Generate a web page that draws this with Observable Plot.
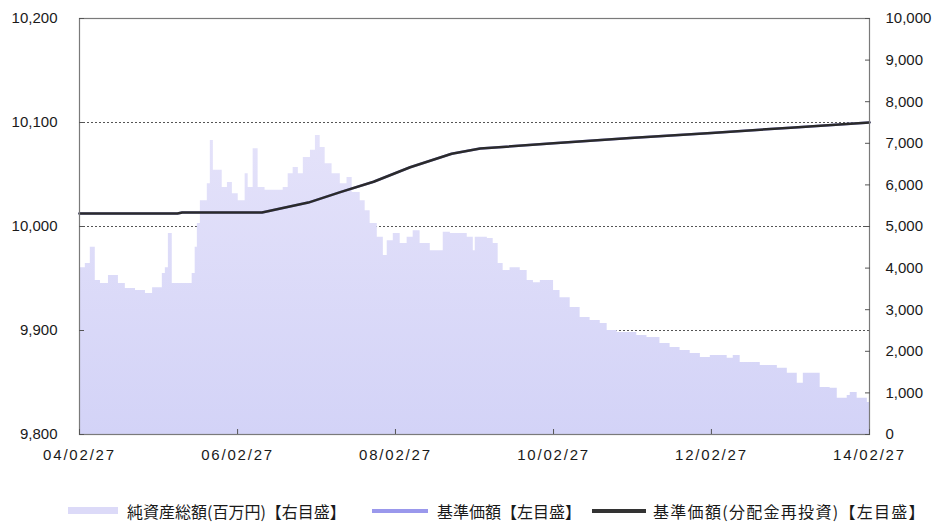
<!DOCTYPE html>
<html>
<head>
<meta charset="utf-8">
<script src="https://cdn.jsdelivr.net/npm/d3@7"></script>
<script src="https://cdn.jsdelivr.net/npm/@observablehq/plot@0.6"></script>
<style>
  html, body { margin: 0; padding: 0; background: #fff; }
  #chart { position: relative; width: 935px; height: 523px; }
  #legend { position: absolute; left: 0; top: 498px; width: 935px; height: 26px;
            font-family: "Noto Sans CJK JP", sans-serif; font-size: 16px; color: #1a1a1a; }
  .sw { position: absolute; top: 11px; height: 4px; }
  .lt { position: absolute; top: 0; white-space: nowrap; line-height: 26px; }
  .xl text { letter-spacing: 1.8px; }
</style>
</head>
<body>
<div id="chart"></div>
<script>
// ---- Data ----
// 純資産総額(百万円) – right axis
const assetDates = ["2004-02-27","2004-03-01","2004-03-25","2004-04-17","2004-05-10","2004-06-03","2004-07-10","2004-08-25","2004-09-26","2004-11-12","2004-12-28","2005-01-30","2005-03-16","2005-03-30","2005-04-13","2005-05-01","2005-06-16","2005-08-01","2005-08-15","2005-08-25","2005-09-08","2005-10-10","2005-10-24","2005-11-07","2005-12-18","2006-01-11","2006-02-03","2006-03-02","2006-04-03","2006-04-17","2006-05-10","2006-06-02","2006-07-04","2006-08-11","2006-09-26","2006-10-19","2006-11-11","2006-12-05","2006-12-28","2007-01-30","2007-02-22","2007-03-16","2007-04-08","2007-05-10","2007-06-17","2007-07-18","2007-08-11","2007-09-17","2007-10-10","2007-11-02","2007-12-05","2008-01-02","2008-01-20","2008-02-17","2008-03-20","2008-04-21","2008-05-19","2008-06-20","2008-08-06","2008-09-21","2008-10-05","2008-11-07","2008-12-23","2009-01-24","2009-02-21","2009-03-02","2009-04-27","2009-05-24","2009-06-16","2009-07-09","2009-08-10","2009-09-26","2009-10-28","2009-11-26","2009-12-28","2010-01-29","2010-02-27","2010-03-29","2010-05-15","2010-06-30","2010-08-15","2010-10-01","2010-11-02","2010-12-18","2011-02-03","2011-03-19","2011-05-05","2011-07-04","2011-08-20","2011-10-05","2011-11-21","2012-01-07","2012-02-22","2012-04-08","2012-05-10","2012-06-07","2012-07-09","2012-10-10","2012-12-28","2013-02-12","2013-03-30","2013-04-27","2013-06-12","2013-07-14","2013-08-29","2013-10-01","2013-11-16","2013-11-30","2014-01-01","2014-02-17","2014-02-27"];
const netAssets = [4010,4010,4110,4500,3700,3630,3820,3630,3510,3460,3390,3530,3870,4010,4830,3630,3630,3870,4500,5070,5620,6030,7070,6350,5940,6060,5790,5620,6270,5940,6870,5940,5870,5870,5940,6270,6420,6270,6660,6830,7190,6900,6510,6270,6030,6180,5820,5620,5380,5070,4740,4300,4660,4830,4590,4740,4900,4590,4420,4420,4860,4830,4830,4740,4420,4740,4710,4590,4110,3940,4010,3940,3700,3650,3700,3700,3460,3290,3050,2810,2740,2670,2500,2450,2450,2380,2330,2190,2090,2020,1950,1850,1900,1900,1830,1900,1730,1660,1590,1470,1230,1470,1470,1130,1110,870,940,1010,870,770,820];

// 基準価額 / 基準価額(分配金再投資) – left axis
const navDates = ["2004-02-27","2005-05-25","2005-06-16","2006-06-20","2007-01-20","2007-06-17","2007-11-18","2008-05-05","2008-11-13","2009-03-25","2010-02-27","2011-02-17","2012-02-27","2013-02-27","2014-02-27"];
const navValues = [10012.5,10012.5,10013.5,10013.5,10023,10033,10043,10057,10070,10075,10080,10085,10090,10095,10100];
const navReinvest = [10012.5,10012.5,10013.5,10013.5,10023,10033,10043,10057,10070,10075,10080,10085,10090,10095,10100];

// axes
const leftTicks = [9800, 9900, 10000, 10100, 10200];
const gridValues = [9900, 10000, 10100];
const rightTicks = [0,1000,2000,3000,4000,5000,6000,7000,8000,9000,10000];
const xTickDates = ["2004-02-27","2006-02-27","2008-02-27","2010-02-27","2012-02-27","2014-02-27"];
const legendLabels = ["純資産総額(百万円)【右目盛】","基準価額【左目盛】","基準価額(分配金再投資)【左目盛】"];

// ---- build ----
const parse = d3.utcParse("%Y-%m-%d");
const leftMin = 9800, rightPerLeft = 25; // right = (left - 9800) * 25
const assets = assetDates.map((d, i) => ({date: parse(d), v: netAssets[i]}));
const nav = navDates.map((d, i) => ({date: parse(d), nav: navValues[i], re: navReinvest[i]}));
const toLeft = v => leftMin + v / rightPerLeft;

const plot = Plot.plot({
  width: 935,
  height: 478,
  marginTop: 18,
  marginBottom: 44,
  marginLeft: 79,
  marginRight: 66,
  style: {fontFamily: "'Liberation Sans', Arial, sans-serif", fontSize: "15px", color: "#1a1a1a", background: "#fff"},
  x: {type: "utc", domain: [parse(xTickDates[0]), parse(xTickDates[xTickDates.length - 1])]},
  y: {domain: [9800, 10200]},
  marks: [
    Plot.ruleY(gridValues, {stroke: "#555", strokeDasharray: "2,2", strokeWidth: 1}),
    Plot.areaY(assets, {x: "date", y1: leftMin, y2: d => toLeft(d.v), fill: "url(#assetGrad)", curve: "step-after"}),
    Plot.lineY(nav, {x: "date", y: "nav", stroke: "#9a98ec", strokeWidth: 2.5}),
    Plot.lineY(nav, {x: "date", y: "re", stroke: "#2b2b2b", strokeWidth: 2.5}),
    Plot.frame({stroke: "#7a7a7a", strokeWidth: 1.2}),
    Plot.axisY(leftTicks, {anchor: "left", tickSize: -5, tickPadding: 27, stroke: "#555", tickFormat: d => d3.format(",")(d)}),
    Plot.axisY(rightTicks.map(toLeft), {anchor: "right", tickSize: -5, tickPadding: 21, stroke: "#555",
      tickFormat: d => d3.format(",")(Math.round((d - leftMin) * rightPerLeft))}),
    Plot.axisX(xTickDates.map(parse), {anchor: "bottom", tickSize: -5, tickPadding: 20, stroke: "#555",
      className: "xl", tickFormat: d3.utcFormat("%y/%m/%d")})
  ]
});

// gradient for the net-asset area
const svg = d3.select(plot);
const defs = svg.insert("defs", ":first-child");
const grad = defs.append("linearGradient").attr("id", "assetGrad")
  .attr("gradientUnits", "userSpaceOnUse").attr("x1", 0).attr("x2", 0).attr("y1", 18).attr("y2", 434);
grad.append("stop").attr("offset", "0%").attr("stop-color", "#ebe8fb");
grad.append("stop").attr("offset", "100%").attr("stop-color", "#d3d3f7");

const chart = document.getElementById("chart");
chart.appendChild(plot);

// legend (below the SVG)
const legend = document.createElement("div");
legend.id = "legend";
const items = [
  {color: "#dcdaf8", sw: [68, 118], tx: 127, ls: 0},
  {color: "#9a98ec", sw: [372, 428], tx: 437, ls: 0},
  {color: "#333333", sw: [592, 646], tx: 653, ls: 1.3}
];
items.forEach((it, i) => {
  const s = document.createElement("div");
  s.className = "sw";
  s.style.left = it.sw[0] + "px";
  s.style.width = (it.sw[1] - it.sw[0]) + "px";
  s.style.background = it.color;
  if (i === 0) { s.style.height = "7px"; s.style.top = "9px"; }
  legend.appendChild(s);
  const t = document.createElement("div");
  t.className = "lt";
  t.style.left = it.tx + "px";
  t.style.letterSpacing = it.ls + "px";
  t.textContent = legendLabels[i];
  legend.appendChild(t);
});
chart.appendChild(legend);
</script>
</body>
</html>
